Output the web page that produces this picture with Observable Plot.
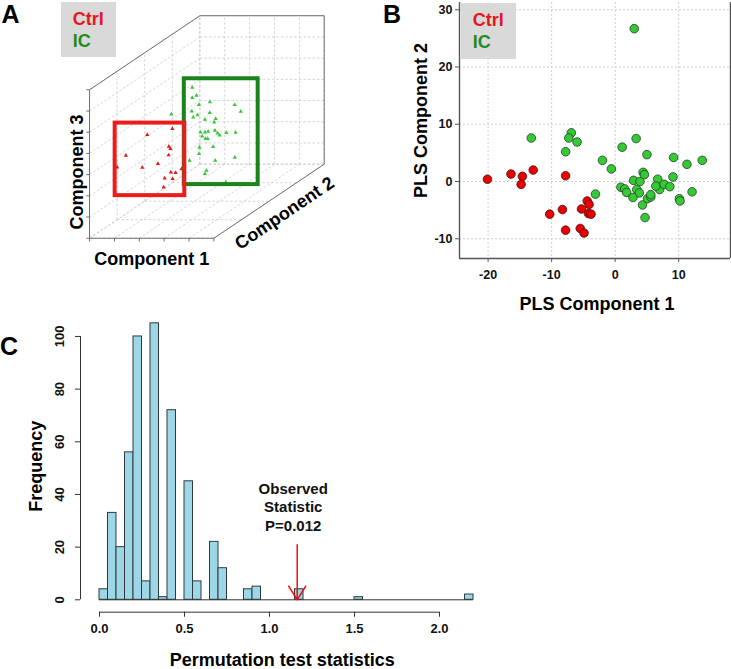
<!DOCTYPE html>
<html><head><meta charset="utf-8">
<script src="https://cdn.jsdelivr.net/npm/d3@7"></script>
<script src="https://cdn.jsdelivr.net/npm/@observablehq/plot@0.6"></script>
<style>
body{margin:0;background:#fff;font-family:"Liberation Sans",Arial,sans-serif;}
#page{position:relative;width:731px;height:669px;overflow:hidden;background:#fff;}
.abs{position:absolute;}
.letter{position:absolute;font-size:25px;font-weight:bold;line-height:25px;color:#000;}
.legend{position:absolute;background:#d9d9d9;}
.lt{position:absolute;font-size:18px;font-weight:bold;line-height:18px;}
</style></head><body>
<div id="page">
  <div id="pa" class="abs" style="left:0;top:0"></div>
  <div id="pb" class="abs" style="left:340px;top:0"></div>
  <div id="pc" class="abs" style="left:0;top:300px"></div>
  <div class="letter" style="left:1.5px;top:2.1px">A</div>
  <div class="letter" style="left:383px;top:1.6px">B</div>
  <div class="letter" style="left:0px;top:333.8px">C</div>
  <div class="legend" style="left:61px;top:1.7px;width:55px;height:55.6px">
    <div class="lt" style="left:11.7px;top:8px;color:#e8141c">Ctrl</div>
    <div class="lt" style="left:11.7px;top:30.8px;color:#1e8c1e">IC</div>
  </div>
  <div class="legend" style="left:460.7px;top:2.7px;width:55.3px;height:56.6px">
    <div class="lt" style="left:12px;top:8.2px;color:#e8141c">Ctrl</div>
    <div class="lt" style="left:12px;top:30.2px;color:#1e8c1e">IC</div>
  </div>
</div>
<script>
const FONT = '"Liberation Sans", Arial, sans-serif';

// ---------- Panel A: 3D PLS view (projected onto the Component 1 / Component 3 front face) ----------
const c1Ticks = [0, 1, 2, 3, 4, 5];
const c2Ticks = [0, 1, 2, 3, 4];
const c3Ticks = [0, 1, 2, 3, 4, 5, 6, 7];
const ctrlAx = [3.33, 2.32, 3.19, 3.25, 3.18, 1.46, 2.75, 1.11, 2.12, 3.70, 3.27, 3.46, 3.02, 3.34, 2.98];
const ctrlAy = [5.16, 4.88, 4.33, 4.22, 3.92, 3.90, 3.51, 3.35, 3.34, 3.27, 3.11, 3.09, 2.83, 2.80, 2.41];
const icAx = [4.13, 4.30, 4.13, 4.40, 4.84, 5.84, 6.08, 4.83, 4.11, 4.34, 4.17, 3.29, 5.07, 5.01, 4.64, 4.46, 4.64, 4.77, 5.04, 5.15, 5.23, 5.50, 5.87, 4.53, 4.66, 4.75, 4.42, 4.97, 4.40, 5.05, 5.84, 4.02, 4.70, 4.64, 5.48];
const icAy = [7.11, 6.73, 6.62, 6.29, 6.42, 6.29, 5.98, 5.92, 5.99, 5.81, 5.71, 5.85, 5.63, 5.47, 5.60, 5.00, 5.00, 5.03, 5.08, 4.95, 4.86, 4.97, 4.99, 4.81, 4.69, 4.69, 4.28, 4.31, 3.98, 3.67, 3.81, 3.67, 3.19, 3.04, 2.64];
const ctrlBoxA = [1.03, 3.83, 2.01, 5.43]; // x1, x2, y1, y2
const icBoxA = [3.81, 6.78, 2.53, 7.52];

// ---------- Panel B: PLS scores ----------
const ctrlBx = [-20.1, -16.4, -14.6, -14.8, -12.9, -7.8, -10.3, -8.3, -5.3, -4.4, -4.1, -4.2, -3.8, -7.8, -5.5, -4.9];
const ctrlBy = [0.4, 1.3, 0.9, -0.5, 2.0, 1.0, -5.7, -4.9, -4.8, -3.4, -4.0, -5.6, -5.7, -8.5, -8.2, -9.0];
const icBx = [3.0, -13.2, -6.9, -7.3, -6.0, -7.8, 1.1, 3.3, 5.0, -2.0, -0.6, 9.2, 11.3, 13.7, -3.1, 0.9, 1.5, 1.8, 2.9, 3.4, 3.8, 2.8, 3.9, 4.4, 4.6, 4.3, 4.7, 5.1, 5.6, 5.6, 6.7, 7.0, 6.4, 7.7, 8.6, 9.1, 10.1, 10.2, 12.1];
const icBy = [26.7, 7.6, 8.5, 7.6, 6.9, 5.2, 6.0, 7.5, 4.7, 3.7, 2.2, 4.2, 3.0, 3.7, -2.2, -1.0, -1.3, -1.9, 0.2, -1.4, -2.0, -2.8, 0.0, 1.6, 1.2, -4.1, -6.3, -3.0, -2.7, -2.3, 0.4, -1.4, -0.8, -0.5, -0.9, 0.8, -3.0, -3.4, -1.8];
const bXTicks = [-20, -10, 0, 10];
const bYTicks = [-10, 0, 10, 20, 30];
const bXDomain = [-24.5, 18.15];
const bYDomain = [-13.45, 31.27];

// ---------- Panel C: permutation histogram ----------
const binWidth = 0.05;
const permBinStart = [0.00, 0.05, 0.10, 0.15, 0.20, 0.25, 0.30, 0.35, 0.40, 0.50, 0.55, 0.65, 0.70, 0.85, 0.90, 1.15, 1.50, 2.15];
const permCount = [4, 33, 20, 56, 100, 7, 105, 1, 72, 45, 7, 22, 12, 4, 5, 4, 1, 2];
const cXTicks = [0, 0.5, 1.0, 1.5, 2.0];
const cYTicks = [0, 20, 40, 60, 80, 100];
const observedStat = 1.163;
const observedLabel = "Observed\nStatistic\nP=0.012";

const baseStyle = {background: "transparent", fontFamily: FONT, color: "#222", overflow: "visible"};
const center = {textAnchor: "middle", lineAnchor: "middle"};

// ---- A ----
const depthX = 1.109, depthY = 0.873;
const c1Max = d3.max(c1Ticks), c2Max = d3.max(c2Ticks), c3Max = d3.max(c3Ticks);
const proj = (c1, c2, c3) => ({x: c1 + c2 * depthX, y: c3 + c2 * depthY});
const seg = (a, b) => { const p = proj(...a), q = proj(...b); return {x1: p.x, y1: p.y, x2: q.x, y2: q.y}; };
const gridA = [];
c1Ticks.forEach(c => { gridA.push(seg([c, c2Max, 0], [c, c2Max, c3Max])); gridA.push(seg([c, 0, 0], [c, c2Max, 0])); });
c3Ticks.forEach(c => { gridA.push(seg([0, c2Max, c], [c1Max, c2Max, c])); gridA.push(seg([0, 0, c], [0, c2Max, c])); });
c2Ticks.forEach(c => { gridA.push(seg([0, c, 0], [0, c, c3Max])); gridA.push(seg([0, c, 0], [c1Max, c, 0])); });
const edgesA = [
  seg([0, 0, 0], [0, 0, c3Max]), seg([0, 0, 0], [c1Max, 0, 0]), seg([c1Max, 0, 0], [c1Max, c2Max, 0]),
  seg([c1Max, c2Max, 0], [c1Max, c2Max, c3Max]), seg([0, c2Max, c3Max], [c1Max, c2Max, c3Max]), seg([0, 0, c3Max], [0, c2Max, c3Max])
];
const tickLen = 0.13;
const ticksA = [
  ...c3Ticks.map(c => ({x1: 0, y1: c, x2: -tickLen, y2: c})),
  ...c1Ticks.map(c => ({x1: c, y1: 0, x2: c, y2: -tickLen * 1.2}))
];
const ctrlA = ctrlAx.map((x, i) => ({x, y: ctrlAy[i]}));
const icA = icAx.map((x, i) => ({x, y: icAy[i]}));
const boxes = [
  {x1: icBoxA[0], x2: icBoxA[1], y1: icBoxA[2], y2: icBoxA[3], c: "#1a8419"},
  {x1: ctrlBoxA[0], x2: ctrlBoxA[1], y1: ctrlBoxA[2], y2: ctrlBoxA[3], c: "#ec1c1c"}
];
const lab1 = proj(c1Max / 2, 0, 0), lab2 = proj(c1Max, c2Max / 2, 0), lab3 = proj(0, 0, c3Max / 2);
const lnk = {x1: "x1", y1: "y1", x2: "x2", y2: "y2"};
const plotA = Plot.plot({
  width: 340, height: 270, margin: 0,
  x: {domain: [-3.58, 10.09], axis: null},
  y: {domain: [-1.52, 11.21], axis: null},
  style: baseStyle,
  marks: [
    Plot.link(gridA, {...lnk, stroke: "#c9c9c9", strokeWidth: 0.8, strokeDasharray: "2.5,2"}),
    Plot.link(edgesA, {...lnk, stroke: "#6e6e6e", strokeWidth: 1}),
    Plot.link(ticksA, {...lnk, stroke: "#6e6e6e", strokeWidth: 1}),
    Plot.dot(icA, {x: "x", y: "y", symbol: "triangle", r: 1.6, fill: "#38c838", stroke: "none"}),
    Plot.dot(ctrlA, {x: "x", y: "y", symbol: "triangle", r: 1.6, fill: "#e31a1c", stroke: "none"}),
    Plot.rect(boxes, {x1: "x1", x2: "x2", y1: "y1", y2: "y2", fill: "none", stroke: "c", strokeWidth: 4}),
    Plot.text(["Component 1"], {...center, text: d => d, x: lab1.x, y: lab1.y, dy: 20.6, fontSize: 18, fontWeight: "bold", fill: "#000"}),
    Plot.text(["Component 3"], {...center, text: d => d, x: lab3.x, y: lab3.y, dx: -12.8, dy: 8, rotate: -90, fontSize: 18, fontWeight: "bold", fill: "#000"}),
    Plot.text(["Component 2"], {...center, text: d => d, x: lab2.x, y: lab2.y, dx: 15.5, dy: 12, rotate: -34, fontSize: 18, fontWeight: "bold", fill: "#000"})
  ]
});
document.getElementById("pa").append(plotA);

// ---- B ----
const ctrlB = ctrlBx.map((x, i) => ({x, y: ctrlBy[i]}));
const icB = icBx.map((x, i) => ({x, y: icBy[i]}));
const frameStroke = "#555";
const plotB = Plot.plot({
  width: 391, height: 320, marginLeft: 119, marginRight: 1, marginTop: 2, marginBottom: 62,
  x: {domain: bXDomain}, y: {domain: bYDomain},
  style: baseStyle,
  marks: [
    Plot.gridX(bXTicks, {stroke: "#cfcfcf", strokeOpacity: 1, strokeDasharray: "2,2"}),
    Plot.gridY(bYTicks, {stroke: "#cfcfcf", strokeOpacity: 1, strokeDasharray: "2,2"}),
    Plot.ruleX([bXDomain[0], bXDomain[1]], {stroke: frameStroke, strokeWidth: 1.4}),
    Plot.ruleY([bYDomain[0]], {stroke: frameStroke, strokeWidth: 1.4}),
    Plot.axisX(bXTicks, {tickSize: 4, tickPadding: 8, fontSize: 12.5, fontWeight: "bold", fill: "#111", stroke: frameStroke, tickFormat: d => String(d), label: null}),
    Plot.axisY(bYTicks, {tickSize: 4, tickPadding: 3, fontSize: 12.5, fontWeight: "bold", fill: "#111", stroke: frameStroke, tickFormat: d => String(d), label: null}),
    Plot.dot(icB, {x: "x", y: "y", r: 4.3, fill: "#36c936", stroke: "#1f3f1f", strokeWidth: 0.8}),
    Plot.dot(ctrlB, {x: "x", y: "y", r: 4.3, fill: "#e60000", stroke: "#4a1010", strokeWidth: 0.8}),
    Plot.text(["PLS Component 1"], {...center, text: d => d, frameAnchor: "bottom", dx: 2, dy: 46, fontSize: 18, fontWeight: "bold", fill: "#000"}),
    Plot.text(["PLS Component 2"], {...center, text: d => d, frameAnchor: "left", dx: -38.2, dy: -10, rotate: -90, fontSize: 18, fontWeight: "bold", fill: "#000"})
  ]
});
document.getElementById("pb").append(plotB);

// ---- C ----
const bins = permBinStart.map((s, i) => ({x1: s, x2: s + binWidth, y: permCount[i]}));
const histEnd = d3.max(permBinStart) + binWidth;
const axisC = "#333";
const plotC = Plot.plot({
  width: 500, height: 369, marginLeft: 99, marginRight: 27, marginTop: 22.8, marginBottom: 69.7,
  x: {domain: [0, 2.2]}, y: {domain: [0, 105]},
  style: baseStyle,
  marks: [
    Plot.rectY(bins, {x1: "x1", x2: "x2", y: "y", fill: "#9dd6e6", stroke: "#2f3a3d", strokeWidth: 1, inset: 0}),
    Plot.ruleY([0], {x1: 0, x2: histEnd, stroke: axisC, strokeWidth: 1}),
    Plot.ruleX([0], {y1: cYTicks[0], y2: d3.max(cYTicks), dx: -19, stroke: axisC, strokeWidth: 1}),
    Plot.axisY(cYTicks, {anchor: "left", tickSize: 5, dx: -19, stroke: axisC, fill: "none", label: null}),
    Plot.text(cYTicks, {...center, y: d => d, text: d => String(d), frameAnchor: "left", dx: -39.8, rotate: -90, fontSize: 13, fontWeight: "bold", fill: "#111"}),
    Plot.ruleY([0], {x1: cXTicks[0], x2: d3.max(cXTicks), dy: 12.4, stroke: axisC, strokeWidth: 1}),
    Plot.axisX(cXTicks, {anchor: "bottom", tickSize: 5, tickPadding: 7, dy: 12.4, stroke: axisC, fill: "#111", fontSize: 13, fontWeight: "bold", tickFormat: d3.format(".1f"), label: null}),
    Plot.arrow([observedStat], {x1: d => d, x2: d => d, y1: 20.9, y2: 0, stroke: "#ee1111", strokeWidth: 1.5, headAngle: 64, headLength: 16}),
    Plot.text([observedStat], {...center, x: d => d, y: 35.5, dx: -4, text: () => observedLabel, lineHeight: 1.23, fontSize: 15, fontWeight: "bold", fill: "#111"}),
    Plot.text(["Frequency"], {...center, text: d => d, frameAnchor: "left", dx: -63.2, dy: 4.8, rotate: -90, fontSize: 18, fontWeight: "bold", fill: "#000"}),
    Plot.text(["Permutation test statistics"], {...center, text: d => d, frameAnchor: "bottom", dx: -4.3, dy: 60.5, fontSize: 18, fontWeight: "bold", fill: "#000"})
  ]
});
document.getElementById("pc").append(plotC);
</script>
</body></html>
